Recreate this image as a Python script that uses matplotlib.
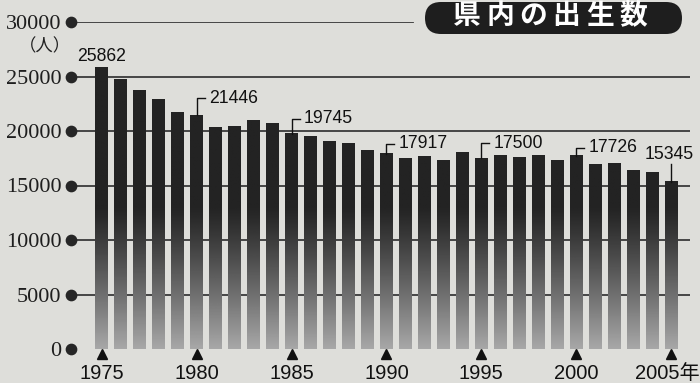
import numpy as np
import matplotlib
matplotlib.use("Agg")
import matplotlib.pyplot as plt
from matplotlib.patches import FancyBboxPatch
from matplotlib.transforms import IdentityTransform, ScaledTranslation

# ---------------- data ----------------
years = list(range(1975, 2006))
births = [25862, 24740, 23730, 22910, 21680, 21446, 20280, 20400, 20950, 20730,
          19745, 19510, 19080, 18870, 18170, 17917, 17460, 17680, 17310, 18070,
          17500, 17710, 17590, 17740, 17280, 17726, 16970, 17060, 16390, 16180,
          15345]
xtick_years = [1975, 1980, 1985, 1990, 1995, 2000, 2005]
xtick_labels = ["1975", "1980", "1985", "1990", "1995", "2000", "2005年"]
ytick_values = [0, 5000, 10000, 15000, 20000, 25000, 30000]
ytick_labels = ["0", "5000", "10000", "15000", "20000", "25000", "30000"]
unit_label = "（人）"
title = "県内の出生数"
labeled_years = [1975, 1980, 1985, 1990, 1995, 2000, 2005]

# ---------------- style ----------------
BG = "#dededa"
DARK = "#262626"
LINE = "#3a3a3a"
W, H = 700, 383
plt.rcParams['font.family'] = ['Liberation Sans', 'Noto Sans CJK JP', 'DejaVu Sans']

fig = plt.figure(figsize=(W / 100, H / 100), dpi=100, facecolor=BG)
ax = fig.add_axes([71 / W, 34 / H, (690 - 71) / W, (361 - 34) / H])
ax.set_facecolor(BG)
px_per_year = 18.97
XLIM = (1975 - (102 - 71) / px_per_year, 2005 + (690 - 671) / px_per_year)
ax.set_ylim(0, 30000)
ax.set_xlim(*XLIM)
for s in ax.spines.values():
    s.set_visible(False)

ypx = 5000 / 54.5        # data units per pixel (y)
xpx = 1 / px_per_year    # data units per pixel (x)

# gridlines
for v in ytick_values[1:]:
    xmax = 0.5525 if v == 30000 else 1.0
    ax.axhline(v, xmin=0, xmax=xmax, color=LINE, lw=1.3, zorder=1)

# tick dots
ax.scatter([XLIM[0]] * len(ytick_values), ytick_values, s=55,
           color=DARK, zorder=5, clip_on=False)

ax.set_yticks(ytick_values)
ax.set_yticklabels(ytick_labels, family=['Liberation Serif'], fontsize=16,
                   color="#1e1e1e")
ax.tick_params(axis='y', length=0, pad=7)

ax.set_xticks(xtick_years)
ax.set_xticklabels(xtick_labels, fontsize=14.5, color="#111111")
ax.tick_params(axis='x', length=0, pad=11)
last = ax.get_xticklabels()[-1]
last.set_transform(last.get_transform() +
                   ScaledTranslation(-4 / 100, 0, fig.dpi_scale_trans))

# triangles under ticks
ax.plot(xtick_years, [-4.5 * ypx] * len(xtick_years), linestyle='none',
        marker='^', markersize=6.5, color="#111111", clip_on=False, zorder=5)

# bars with gradient
bw = 0.685
bars = ax.bar(years, births, width=bw, color='none', edgecolor='none', zorder=2)
N = 300
def shade(v):
    if v >= 13000:
        return 0.14
    t = v / 13000
    return 0.14 + (0.66 - 0.14) * (1 - t) ** 1.15

for b, x, h in zip(bars, years, births):
    ys = (np.arange(N) + 0.5) / N * h
    g = np.array([shade(y) for y in ys])
    img = np.repeat(g[:, None], 2, axis=1)
    ax.imshow(img, extent=[x - bw / 2, x + bw / 2, 0, h], origin='lower',
              cmap='gray', vmin=0, vmax=1, aspect='auto', zorder=3,
              interpolation='bilinear')
ax.set_xlim(*XLIM)
ax.set_ylim(0, 30000)

# value labels
lbl_font = dict(fontsize=12.7, color="#111111")
bracket_px = {1980: 17, 1985: 15, 1990: 10, 1995: 15, 2000: 8}
for yr in labeled_years:
    v = births[years.index(yr)]
    txt = f"{v}"
    if yr == 1975:
        ax.text(yr, v + 2 * ypx, txt, ha='center', va='bottom', **lbl_font,
                zorder=6)
    elif yr == 2005:
        top = v + 18 * ypx
        ax.plot([yr, yr], [v, top], color="#111111", lw=1.0, zorder=6,
                clip_on=False)
        ax.text(yr - 1.5 * xpx, top + 1 * ypx, txt, ha='center', va='bottom',
                **lbl_font, zorder=6)
    else:
        top = v + bracket_px[yr] * ypx
        ax.plot([yr, yr, yr + 8 * xpx], [v, top, top], color="#111111",
                lw=1.0, zorder=6)
        ax.text(yr + 12 * xpx, top, txt, ha='left', va='center', **lbl_font,
                zorder=6)

# unit label
fig.text(45 / W, 1 - 46 / H, unit_label, ha='center', va='center',
         fontsize=12.5, family=['Noto Sans CJK JP'], color="#222222")

# title pill
pill = FancyBboxPatch((425, H - 34), 682 - 425, 32,
                      boxstyle="round,pad=0,rounding_size=16",
                      transform=IdentityTransform(), facecolor="#1e1e1e",
                      edgecolor='none', zorder=10)
fig.patches.append(pill)
for i, ch in enumerate(title):
    fig.text((466.7 + 33.3 * i) / W, 1 - 16 / H, ch, ha='center', va='center',
             fontsize=20, fontweight='bold', family=['Noto Sans CJK JP'],
             color="white", zorder=11)

fig.savefig("out.png", dpi=100, facecolor=BG)
